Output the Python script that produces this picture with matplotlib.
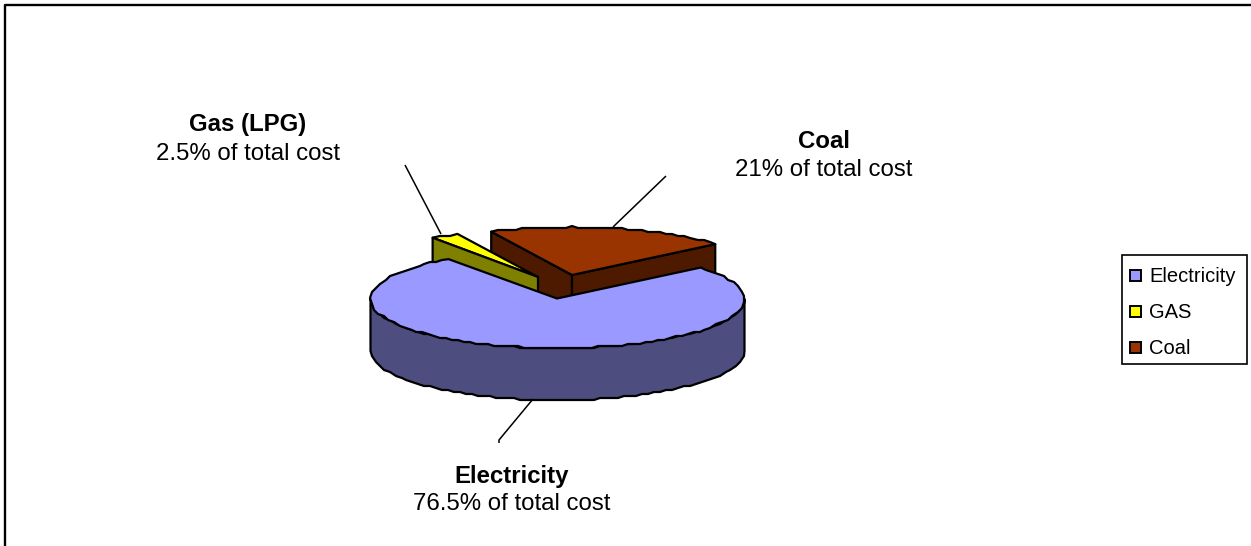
import numpy as np
import matplotlib
matplotlib.use("Agg")
import matplotlib.pyplot as plt
from matplotlib.patches import Polygon, Rectangle

plt.rcParams['font.family'] = ['Liberation Sans', 'DejaVu Sans']

# Share of total cost, percent
categories = ['Electricity', 'GAS', 'Coal']
shares = [76.5, 2.5, 21.0]
label_titles = ['Electricity', 'Gas (LPG)', 'Coal']
label_notes = ['76.5% of total cost', '2.5% of total cost', '21% of total cost']

top_colors = ['#9999FF', '#FFFF00', '#993300']
side_colors = ['#4D4D80', '#808000', '#4D1A00']

W, H = 1251, 546
fig = plt.figure(figsize=(W / 100, H / 100), dpi=100)
ax = fig.add_axes([0, 0, 1, 1])
ax.set_xlim(0, W)
ax.set_ylim(H, 0)
ax.axis('off')

# Tilted disc geometry
CX, CY = 557.5, 299.0
RX, RY = 187.0, 49.0
DEPTH = 52.0
START = 40.0          # angle where the coal slice begins, degrees
LW = 1.6
GRID = 2.0            # coarse outline grid gives the rim its stepped look
STEP = 6.0            # spacing of rim points along the outline


def rim(a0, a1, cx, cy, rx, ry):
    fine = np.radians(np.linspace(a0, a1, 1500))
    x = cx + rx * np.cos(fine)
    y = cy - ry * np.sin(fine)
    dist = np.concatenate([[0], np.cumsum(np.hypot(np.diff(x), np.diff(y)))])
    n = max(int(dist[-1] / STEP), 2)
    marks = np.linspace(0, dist[-1], n)
    pts = np.column_stack([np.interp(marks, dist, x), np.interp(marks, dist, y)])
    pts[1:-1] = np.round(pts[1:-1] / GRID) * GRID
    return pts


def poly(pts, color, z):
    ax.add_patch(Polygon(pts, closed=True, facecolor=color, edgecolor='black',
                         linewidth=LW, joinstyle='round', zorder=z))


def drop(p):
    return (p[0], p[1] + DEPTH)


# Slice angles run anticlockwise from coal through gas to electricity
coal_a = (START, START + shares[2] * 3.6)
gas_a = (coal_a[1] + 0.5, coal_a[1] + 0.5 + shares[1] * 3.6)
elec_a = (gas_a[1] + 0.5, gas_a[1] + 0.5 + shares[0] * 3.6 - 1.0)

# Coal slice, pulled out toward the back
cx, cy, r, s = CX + 14.5, CY - 24, RX, RY * 0.98
arc = rim(*coal_a, cx, cy, r, s)
p_right, p_left = arc[0], arc[-1]
poly([p_left, (cx, cy), drop((cx, cy)), drop(p_left)], side_colors[2], 1)
poly([(cx, cy), p_right, drop(p_right), drop((cx, cy))], side_colors[2], 1)
poly(np.vstack([[(cx, cy)], arc]), top_colors[2], 2)

# Gas slice, pulled out toward the back left
gx, gy, gr, gs = CX - 19.5, CY - 22, RX * 0.98, RY * 0.98
arc = rim(*gas_a, gx, gy, gr, gs)
g_left = arc[-1]
poly(np.vstack([[(gx, gy)], arc]), top_colors[1], 3)
poly([g_left, (gx, gy), drop((gx, gy)), drop(g_left)], side_colors[1], 3.5)

# Main electricity slice: wall first, then the top face
wall = rim(180, 360, CX, CY, RX, RY)
wall_low = rim(360, 180, CX, CY + DEPTH, RX, RY)
poly(np.vstack([wall, wall_low]), side_colors[0], 4)
arc = rim(*elec_a, CX, CY, RX, RY)
poly(np.vstack([[(CX - 0.5, CY - 0.5)], arc]), top_colors[0], 5)

# Leader lines
leaders = [((499, 443), (499, 440), (533, 399)),
           ((405, 165), (405, 165), (441, 234)),
           ((666, 176), (666, 176), (613, 227))]
for line in leaders:
    xs, ys = zip(*line)
    ax.plot(xs, ys, color='black', lw=1.1, zorder=6, solid_capstyle='butt')

# Callout labels
FS = 17.27
label_pos = [(512, 476, 503.5), (247.5, 125, 153.5), (824, 142, 170.5)]
for (x, y1, y2), title, note in zip(label_pos, label_titles, label_notes):
    ax.text(x, y1, title, ha='center', va='center', fontsize=FS, fontweight='bold', color='black', zorder=7)
    ax.text(x, y2, note, ha='center', va='center', fontsize=FS, color='black', zorder=7)

# Legend box
ax.add_patch(Rectangle((1122, 255), 125, 109, facecolor='white', edgecolor='black', lw=1.2, zorder=6))
for name, col, y in zip(categories, top_colors, (275, 311, 347)):
    ax.add_patch(Rectangle((1130, y - 5.5), 11, 11, facecolor=col, edgecolor='black', lw=1.4, zorder=7))
    ax.text(1149.5, y + 1.5, name, ha='left', va='center', fontsize=14.5, color='black', zorder=7)

# Outer frame
ax.plot([5, 5, 1251], [H, 5, 5], color='black', lw=1.7, zorder=8, clip_on=False)

fig.savefig('out.png', dpi=100, facecolor='white')
